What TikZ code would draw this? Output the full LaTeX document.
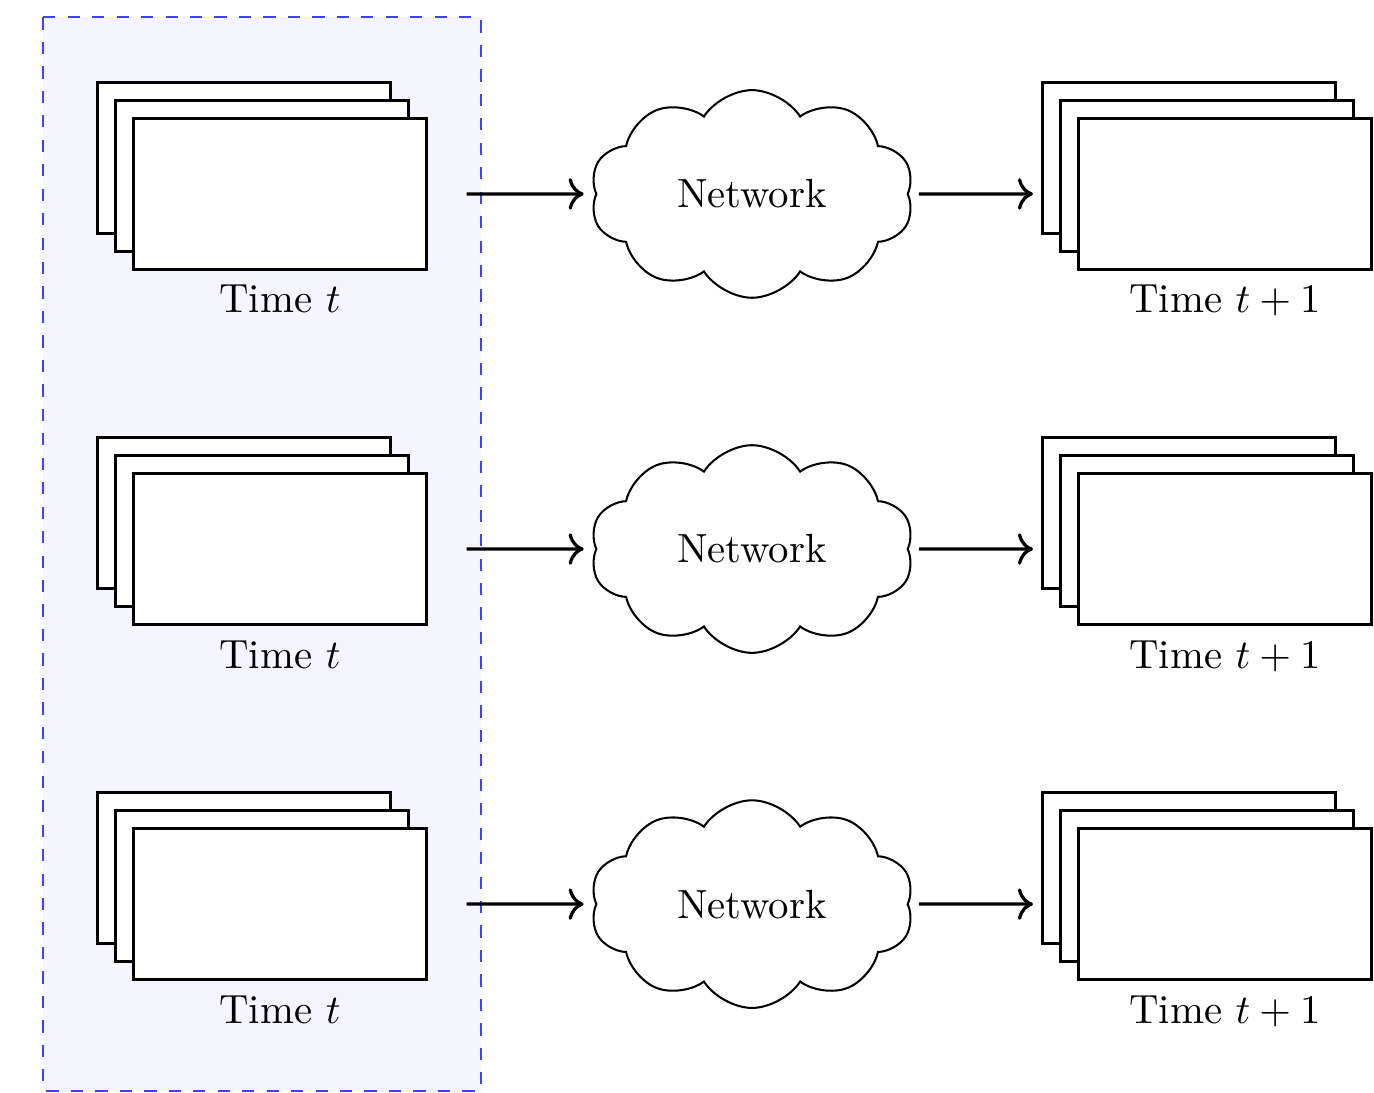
\documentclass[tikz,border=0pt]{standalone}
\usetikzlibrary{shapes.symbols}
\usetikzlibrary{shadows}
\usetikzlibrary{arrows.meta}
\begin{document}
\begin{tikzpicture}[
  frame/.style={draw, thick, fill=white, inner sep=0pt,
    minimum width=2.53cm, minimum height=1.3cm,
    copy shadow={shadow xshift=-0.31cm, shadow yshift=0.31cm, thick},
    copy shadow={shadow xshift=-0.155cm, shadow yshift=0.155cm, thick}},
  net/.style={cloud, draw, line width=0.5pt, cloud puffs=10, cloud puff arc=115,
    aspect=1.6, cloud ignores aspect, minimum width=2.79cm, minimum height=1.79cm},
  flow/.style={-{To[scale=1.1]}, thick}]
\def\dy{3.061}
\useasboundingbox (0,0) rectangle (11.845,-9.422);

% batch of inputs
\draw[blue!75, line width=0.5pt, dashed, fill=blue!4] (0.374,-0.15) rectangle (4.143,-9.402);

\node[frame, label={below:Time $t$}] (in1) at (2.414,-1.672) {};
\node[frame, label={below:Time $t$}] (in2) at (2.414,-1.672-\dy) {};
\node[frame, label={below:Time $t$}] (in3) at (2.414,-1.672-2*\dy) {};

\node[net] (net1) at (6.483,-1.672) {Network};
\node[net] (net2) at (6.483,-1.672-\dy) {Network};
\node[net] (net3) at (6.483,-1.672-2*\dy) {Network};

\node[frame, label={below:Time $t+1$}] (out1) at (10.560,-1.672) {};
\node[frame, label={below:Time $t+1$}] (out2) at (10.560,-1.672-\dy) {};
\node[frame, label={below:Time $t+1$}] (out3) at (10.560,-1.672-2*\dy) {};

\draw[flow, shorten <=0.33cm, shorten >=0.1cm] (in1) -- (net1);
\draw[flow, shorten <=0.33cm, shorten >=0.1cm] (in2) -- (net2);
\draw[flow, shorten <=0.33cm, shorten >=0.1cm] (in3) -- (net3);
\draw[flow, shorten <=0.086cm, shorten >=0.376cm] (net1) -- (out1);
\draw[flow, shorten <=0.086cm, shorten >=0.376cm] (net2) -- (out2);
\draw[flow, shorten <=0.086cm, shorten >=0.376cm] (net3) -- (out3);
\end{tikzpicture}
\end{document}
